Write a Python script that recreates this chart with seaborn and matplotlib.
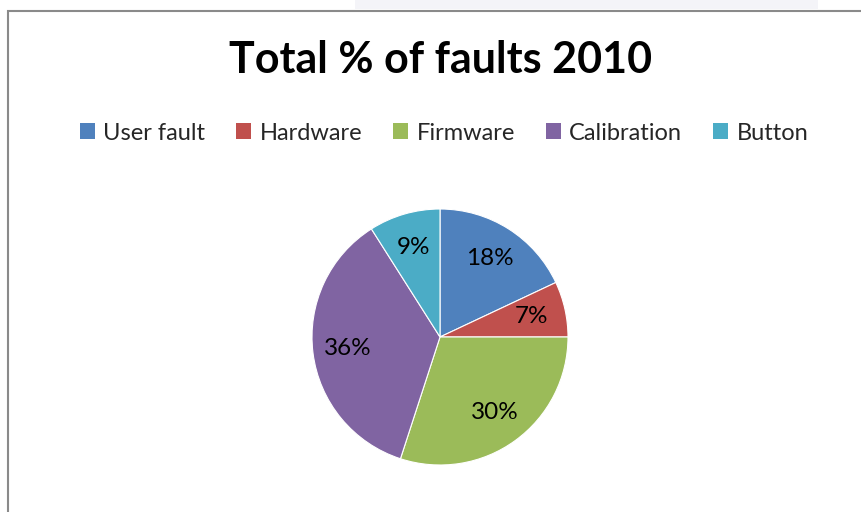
import matplotlib
matplotlib.use("Agg")
import matplotlib.pyplot as plt
from matplotlib.patches import Rectangle, Patch
import seaborn as sns

# Fault categories and their share of the total (%)
categories = ["User fault", "Hardware", "Firmware", "Calibration", "Button"]
shares = [18, 7, 30, 36, 9]
colors = ["#4F81BD", "#C0504D", "#9BBB59", "#8064A2", "#4BACC6"]
title = "Total % of faults 2010"

sns.set_theme(style="white")
plt.rcParams["font.family"] = ["Lato", "DejaVu Sans"]

W, H = 861, 512
fig = plt.figure(figsize=(W / 100, H / 100), dpi=100)
fig.patch.set_facecolor("white")

# light strip above the chart frame
fig.add_artist(Rectangle((355 / W, 1 - 9 / H), 463 / W, 9 / H,
                         transform=fig.transFigure, facecolor="#f4f4f8",
                         edgecolor="none", zorder=0))
# chart frame (left and top edges visible)
fig.add_artist(Rectangle((7.5 / W, -0.1), 1.2, 1.1 - 10.5 / H,
                         transform=fig.transFigure, facecolor="none",
                         edgecolor="#8a8a8a", linewidth=1.5, zorder=1))

fig.text(441 / W, 1 - 73 / H, title, ha="center", va="baseline",
         fontsize=31, fontweight="bold", color="black")

palette = sns.color_palette(colors)
cx, cy, r = 440, 512 - 337, 128
ax = fig.add_axes([(cx - r) / W, (cy - r) / H, 2 * r / W, 2 * r / H])
wedges, texts, autotexts = ax.pie(
    shares, colors=palette, startangle=90, counterclock=False,
    autopct="%.0f%%", pctdistance=0.73,
    wedgeprops=dict(edgecolor="white", linewidth=0.8),
    textprops=dict(fontsize=17.5, color="black"))
ax.set_xlim(-1, 1)
ax.set_ylim(-1, 1)
ax.set_aspect("equal")
ax.axis("off")

handles = [Patch(facecolor=c, edgecolor="none") for c in palette]
fig.legend(handles, categories, loc="center", ncol=5,
           bbox_to_anchor=(444 / W, 1 - 133 / H), frameon=False,
           fontsize=17, handlelength=0.65, handleheight=0.65,
           handletextpad=0.35, columnspacing=1.3)

fig.savefig("out.png", dpi=100)
